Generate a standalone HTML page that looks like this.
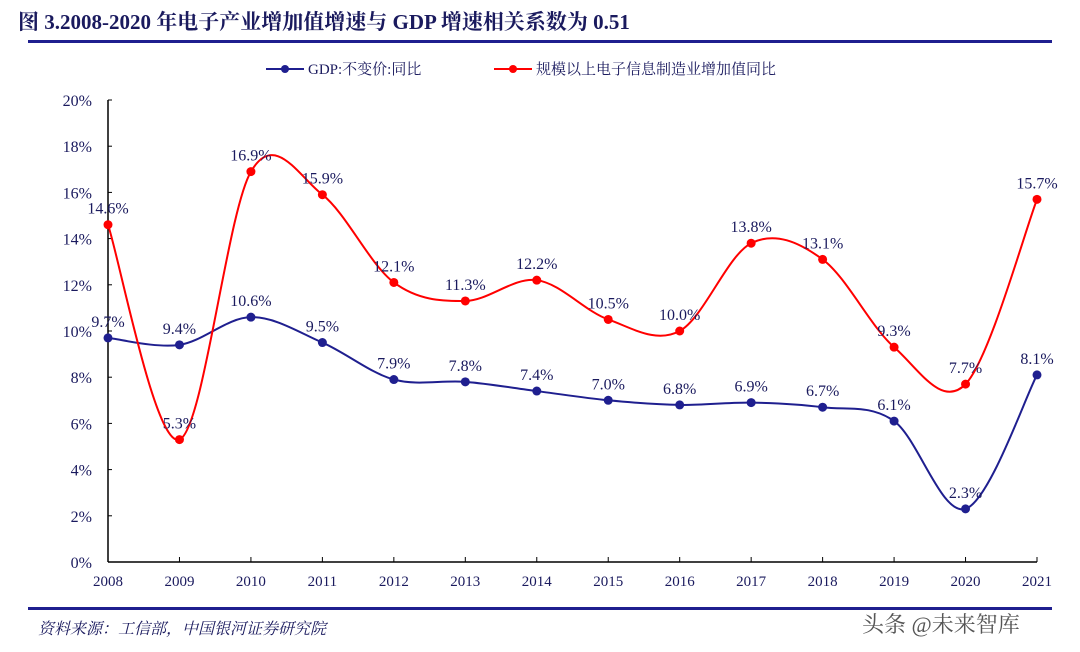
<!DOCTYPE html>
<html><head><meta charset="utf-8"><style>
body{margin:0;background:#fff;width:1080px;height:652px;overflow:hidden}
svg{display:block}
text{font-family:"Liberation Serif","Noto Serif CJK SC",serif}
</style></head><body>
<svg width="1080" height="652">
<text x="18" y="29" font-size="21" font-weight="bold" fill="#1a1a5e">图 3.2008-2020 年电子产业增加值增速与 GDP 增速相关系数为 0.51</text>
<rect x="28" y="40" width="1024" height="3" fill="#1f1f8f"/>
<g>
<g><line x1="266" y1="69" x2="304" y2="69" stroke="#1f1f8f" stroke-width="2"/><circle cx="285" cy="69" r="4" fill="#1f1f8f"/><text x="308" y="74" font-size="15" fill="#1a1a5e">GDP:不变价:同比</text></g>
<g><line x1="494" y1="69" x2="532" y2="69" stroke="#ff0000" stroke-width="2"/><circle cx="513" cy="69" r="4" fill="#ff0000"/><text x="536" y="74" font-size="15" fill="#1a1a5e">规模以上电子信息制造业增加值同比</text></g>
</g>
<g id="axes"></g>
<g id="series"></g>
<rect x="28" y="607" width="1024" height="3" fill="#1f1f8f"/>
<text x="38" y="634" font-size="16" font-style="italic" fill="#1a1a5e">资料来源：工信部，中国银河证券研究院</text>
<text x="862" y="632" font-size="22" fill="#555" font-family="Liberation Sans,Noto Sans CJK SC,sans-serif">头条 @未来智库</text>
</svg>
<script>
const years=['2008','2009','2010','2011','2012','2013','2014','2015','2016','2017','2018','2019','2020','2021'];
const gdp=[9.7,9.4,10.6,9.5,7.9,7.8,7.4,7.0,6.8,6.9,6.7,6.1,2.3,8.1];
const elec=[14.6,5.3,16.9,15.9,12.1,11.3,12.2,10.5,10.0,13.8,13.1,9.3,7.7,15.7];
const yTicks=[0,2,4,6,8,10,12,14,16,18,20];
const NS='http://www.w3.org/2000/svg';
const x0=108,x1=1037,yb=562,yt=100,ymax=20;
const X=i=>x0+(x1-x0)*i/(years.length-1);
const Y=v=>yb-(yb-yt)*v/ymax;
function mk(t,a,p){const e=document.createElementNS(NS,t);for(const k in a)e.setAttribute(k,a[k]);p.appendChild(e);return e;}
const ax=document.getElementById('axes');
const yl=mk('line',{x1:x0,y1:Y(ymax),x2:x0,y2:yb,stroke:'#000','stroke-width':1.5},ax);


const xl=mk('line',{x1:x0,y1:yb,x2:x1,y2:yb,stroke:'#000','stroke-width':1.5},ax);


yTicks.forEach(v=>{mk('line',{x1:x0,y1:Y(v),x2:x0+4,y2:Y(v),stroke:'#000'},ax);
const t=mk('text',{x:x0-16,y:Y(v)+6,'font-size':16,'text-anchor':'end',fill:'#1a1a5e'},ax);t.textContent=v+'%';

});
years.forEach((y,i)=>{mk('line',{x1:X(i),y1:yb,x2:X(i),y2:yb-5,stroke:'#000'},ax);
const t=mk('text',{x:X(i),y:yb+24,'font-size':15,'text-anchor':'middle',fill:'#1a1a5e'},ax);t.textContent=y;

});
function path(vals){const p=vals.map((v,i)=>[X(i),Y(v)]);let d='M'+p[0];
for(let i=0;i<p.length-1;i++){const a=p[i-1]||p[i],b=p[i],c=p[i+1],e=p[i+2]||c;
d+=' C'+(b[0]+(c[0]-a[0])/6)+','+(b[1]+(c[1]-a[1])/6)+' '+(c[0]-(e[0]-b[0])/6)+','+(c[1]-(e[1]-b[1])/6)+' '+c[0]+','+c[1];}return d;}
const sg=document.getElementById('series');
[[gdp,'#1f1f8f','gdp'],[elec,'#ff0000','electronics']].forEach(([vals,c,n])=>{
const g=mk('g',{},sg);


mk('path',{d:path(vals),fill:'none',stroke:c,'stroke-width':2},g);
vals.forEach((v,i)=>{const pt=mk('circle',{cx:X(i),cy:Y(v),r:4.5,fill:c},g);


const t=mk('text',{x:X(i),y:Y(v)-11,'font-size':16,'text-anchor':'middle',fill:'#1a1a5e'},g);t.textContent=v.toFixed(1)+'%';

});
});
</script>
</body></html>
